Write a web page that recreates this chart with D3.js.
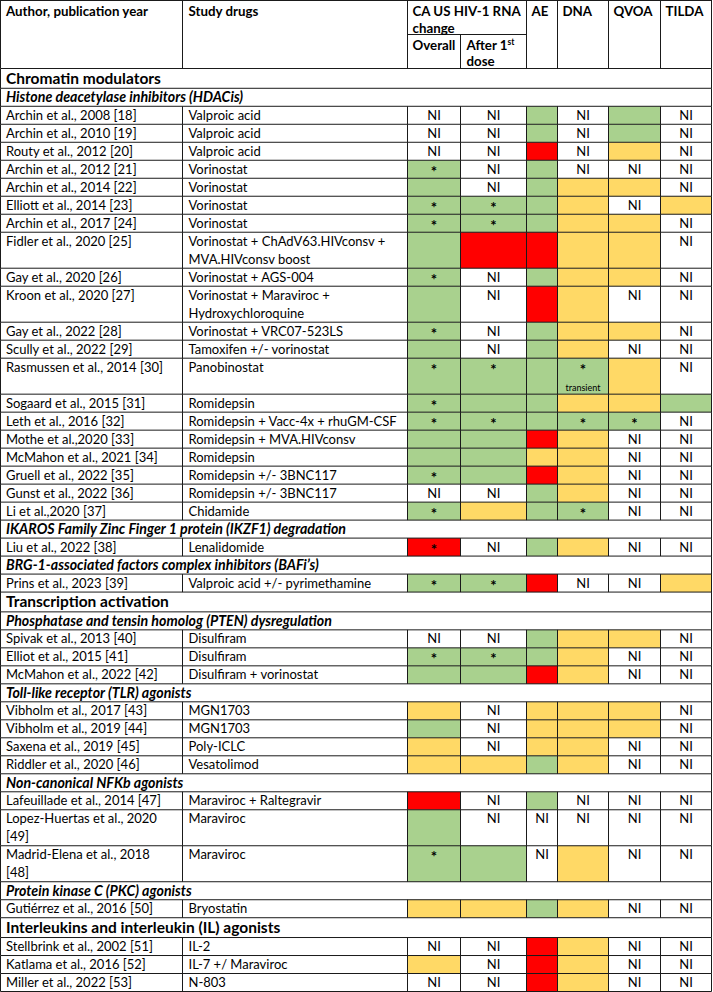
<!DOCTYPE html>
<html><head><meta charset="utf-8">
<script src="https://cdn.jsdelivr.net/npm/d3@7"></script>
<style>body{margin:0;background:#fff}svg{display:block}text{font-family:Lato,"Open Sans",sans-serif;fill:#000}</style>
</head><body><svg id="chart" width="713" height="992"></svg>
<script>
// ---------- DATA ----------
const authors = [
 "Archin et al., 2008 [18]","Archin et al., 2010 [19]","Routy et al., 2012 [20]",
 "Archin et al., 2012 [21]","Archin et al., 2014 [22]","Elliott et al., 2014 [23]",
 "Archin et al., 2017 [24]","Fidler et al., 2020 [25]","Gay et al., 2020 [26]",
 "Kroon et al., 2020 [27]","Gay et al., 2022 [28]","Scully et al., 2022 [29]",
 "Rasmussen et al., 2014 [30]","Sogaard et al., 2015 [31]","Leth et al., 2016 [32]",
 "Mothe et al.,2020 [33]","McMahon et al., 2021 [34]","Gruell et al., 2022 [35]",
 "Gunst et al., 2022 [36]","Li et al.,2020 [37]",
 "Liu et al., 2022 [38]",
 "Prins et al., 2023 [39]",
 "Spivak et al., 2013 [40]","Elliot et al., 2015 [41]","McMahon et al., 2022 [42]",
 "Vibholm et al., 2017 [43]","Vibholm et al., 2019 [44]","Saxena et al., 2019 [45]","Riddler et al., 2020 [46]",
 "Lafeuillade et al., 2014 [47]","Lopez-Huertas et al., 2020\n[49]","Madrid-Elena et al., 2018\n[48]",
 "Gutiérrez et al., 2016 [50]",
 "Stellbrink et al., 2002 [51]","Katlama et al., 2016 [52]","Miller et al., 2022 [53]"
];
const drugs = [
 "Valproic acid","Valproic acid","Valproic acid",
 "Vorinostat","Vorinostat","Vorinostat",
 "Vorinostat","Vorinostat + ChAdV63.HIVconsv +\nMVA.HIVconsv boost","Vorinostat + AGS-004",
 "Vorinostat + Maraviroc +\nHydroxychloroquine","Vorinostat + VRC07-523LS","Tamoxifen +/- vorinostat",
 "Panobinostat","Romidepsin","Romidepsin + Vacc-4x + rhuGM-CSF",
 "Romidepsin + MVA.HIVconsv","Romidepsin","Romidepsin +/- 3BNC117",
 "Romidepsin +/- 3BNC117","Chidamide",
 "Lenalidomide",
 "Valproic acid +/- pyrimethamine",
 "Disulfiram","Disulfiram","Disulfiram + vorinostat",
 "MGN1703","MGN1703","Poly-ICLC","Vesatolimod",
 "Maraviroc + Raltegravir","Maraviroc","Maraviroc",
 "Bryostatin",
 "IL-2","IL-7 +/ Maraviroc","N-803"
];
// G = green, Y = yellow, R = red, N = "NI"; "*" marks; extra lines are notes
const overall = ["N","N","N","G*","G","G*","G*","G","G*","G","G*","G","G*","G*","G*","G","G","G*","N","G*","R*","G*","N","G*","G","Y","G","Y","Y","R","G","G*","Y","N","Y","N"];
const after1  = ["N","N","N","N","N","G*","G*","R","N","N","N","N","G*","G","G*","G","G","G","N","Y","N","G*","N","G*","G","N","N","N","Y","N","N","G","Y","N","N","N"];
const ae      = ["G","G","R","G","G","G","G","R","G","R","G","G","G","G","G","R","Y","R","G","G","G","R","G","G","R","Y","Y","Y","G","G","N","N","G","R","R","R"];
const dna     = ["N","N","N","N","Y","Y","Y","Y","Y","Y","Y","Y","G*\ntransient","Y","G*","Y","Y","Y","Y","G*","Y","N","Y","Y","Y","Y","Y","Y","Y","N","N","Y","Y","Y","Y","Y"];
const qvoa    = ["G","G","Y","N","Y","N","Y","Y","Y","N","Y","N","Y","Y","G*","N","N","N","N","N","N","N","Y","N","N","Y","Y","N","N","N","N","N","N","N","N","N"];
const tilda   = ["N","N","N","N","N","Y","N","N","N","N","N","N","N","G","N","N","N","N","N","N","N","Y","N","N","N","N","N","N","N","N","N","N","N","N","N","N"];

const headingText = ["Chromatin modulators","Histone deacetylase inhibitors (HDACis)",
 "IKAROS Family Zinc Finger 1 protein (IKZF1) degradation","BRG-1-associated factors complex inhibitors (BAFi’s)",
 "Transcription activation","Phosphatase and tensin homolog (PTEN) dysregulation",
 "Toll-like receptor (TLR) agonists","Non-canonical NFKb agonists",
 "Protein kinase C (PKC) agonists","Interleukins and interleukin (IL) agonists"];
const headingBefore = [0,0,20,21,22,22,25,29,32,33];
const headingLevel  = [1,2,2,2,1,2,2,2,2,1];

const colLabels = ["Author, publication year","Study drugs","Overall","After 1st\ndose","AE","DNA","QVOA","TILDA"];
const groupLabel = "CA US HIV-1 RNA\nchange";

// ---------- LAYOUT ----------
const svg = d3.select("#chart");
const colKeys = ["author","drug","overall","after","ae","dna","qvoa","tilda"];
const edges = [0.5,182.5,407.5,460.5,526.5,557.5,608.5,660.5,711.5];
const xL = d3.scaleOrdinal().domain(colKeys).range(edges.slice(0,8));
const xR = d3.scaleOrdinal().domain(colKeys).range(edges.slice(1));
const colour = d3.scaleOrdinal().domain(["G","Y","R"]).range(["#A9D18E","#FFD966","#FF0000"]);
const lineCol = "#1a1a1a";
const headerBottom = 68.5, subLine = 34.5;

const rows = [];
let hi = 0;
for (let i = 0; i < authors.length; i++) {
  while (hi < headingText.length && headingBefore[hi] === i) {
    rows.push({kind: headingLevel[hi] === 1 ? "sec" : "sub", text: headingText[hi]}); hi++;
  }
  const cells = [overall[i], after1[i], ae[i], dna[i], qvoa[i], tilda[i]];
  const lines = Math.max(authors[i].split("\n").length, drugs[i].split("\n").length,
                         ...cells.map(c => c.split("\n").length));
  rows.push({kind: "data", i, lines, cells});
}
const secUnits = 1.1;
let acc = 0;
rows.forEach(r => { r.u0 = acc; r.units = r.kind === "data" ? r.lines : (r.kind === "sec" ? secUnits : 1); acc += r.units; r.u1 = acc; });
const y = d3.scaleLinear().domain([0, acc]).range([headerBottom, 991.5]);
const unitPx = y(1) - y(0);

const gFill = svg.append("g"), gLine = svg.append("g"), gText = svg.append("g");

function hline(x1, x2, yy, w) {
  gLine.append("line").attr("x1", x1).attr("x2", x2).attr("y1", yy).attr("y2", yy)
    .attr("stroke", lineCol).attr("stroke-width", w || 1);
}
function vline(xx, y1, y2) {
  gLine.append("line").attr("x1", xx).attr("x2", xx).attr("y1", y1).attr("y2", y2)
    .attr("stroke", lineCol).attr("stroke-width", 1);
}
const FS = 13;      // body text
const HFS = 13.3;   // header text

// ---------- HEADER ----------
hline(edges[0], edges[8], 0.5);
hline(edges[0], edges[8], headerBottom);
hline(xL("overall"), xR("after"), subLine);
edges.forEach((e, k) => { vline(e, k === 3 ? subLine : 0, headerBottom); });
function hText(str, xx, yy, anchor) {
  return gText.append("text").attr("x", xx).attr("y", yy).attr("font-size", HFS).attr("font-weight", 700)
    .attr("text-anchor", anchor || "start").text(str);
}
hText(colLabels[0], 6, 16);
hText(colLabels[1], xL("drug") + 6, 16);
groupLabel.split("\n").forEach((s, k) => hText(s, xL("overall") + 5, 16 + k * 17));
hText(colLabels[2], xL("overall") + 5, 50);
{
  const parts = colLabels[3].split("\n");
  const t = hText("", xL("after") + 6, 50);
  t.append("tspan").text(parts[0].replace("st", ""));
  t.append("tspan").attr("dy", -5).attr("font-size", 8.5).text("st");
  hText(parts[1], xL("after") + 6, 66);
}
["ae","dna","qvoa","tilda"].forEach((k, j) => hText(colLabels[4 + j], xL(k) + 5, 16));

// ---------- BODY ----------
rows.forEach((r) => {
  const top = y(r.u0), bot = y(r.u1);
  hline(edges[0], edges[8], bot);
  if (r.kind !== "data") {
    vline(edges[0], top, bot); vline(edges[8], top, bot);
    gText.append("text").attr("x", 6).attr("y", (top + bot) / 2 + (r.kind === "sec" ? 5.5 : 5))
      .attr("font-size", r.kind === "sec" ? 15.5 : 14.2).attr("font-weight", 700)
      .attr("font-style", r.kind === "sub" ? "italic" : "normal").text(r.text);
    return;
  }
  const lineY = k => top + unitPx * (k + 0.5) + 4.6;
  authors[r.i].split("\n").forEach((s, k) =>
    gText.append("text").attr("x", 6).attr("y", lineY(k)).attr("font-size", FS).text(s));
  drugs[r.i].split("\n").forEach((s, k) =>
    gText.append("text").attr("x", xL("drug") + 6).attr("y", lineY(k)).attr("font-size", FS).text(s));
  r.cells.forEach((c, j) => {
    const key = colKeys[j + 2];
    const x0 = xL(key), x1 = xR(key), cx = (x0 + x1) / 2;
    const parts = c.split("\n");
    const code = parts[0][0];
    if (code !== "N") {
      gFill.append("rect").attr("x", x0).attr("y", top).attr("width", x1 - x0).attr("height", bot - top)
        .attr("fill", colour(code));
    }
    const label = code === "N" ? "NI" : parts[0].slice(1);
    if (label) {
      const isStar = label === "*";
      gText.append("text").attr("x", cx).attr("y", isStar ? lineY(0) + 3 : lineY(0))
        .attr("text-anchor", "middle").attr("font-size", isStar ? 15 : FS)
        .attr("font-weight", isStar ? 700 : 400).text(label);
    }
    parts.slice(1).forEach((s, k) =>
      gText.append("text").attr("x", cx).attr("y", lineY(k + 1) + 1).attr("text-anchor", "middle")
        .attr("font-size", 9).text(s));
  });
  edges.forEach(e => vline(e, top, bot));
});
</script></body></html>
